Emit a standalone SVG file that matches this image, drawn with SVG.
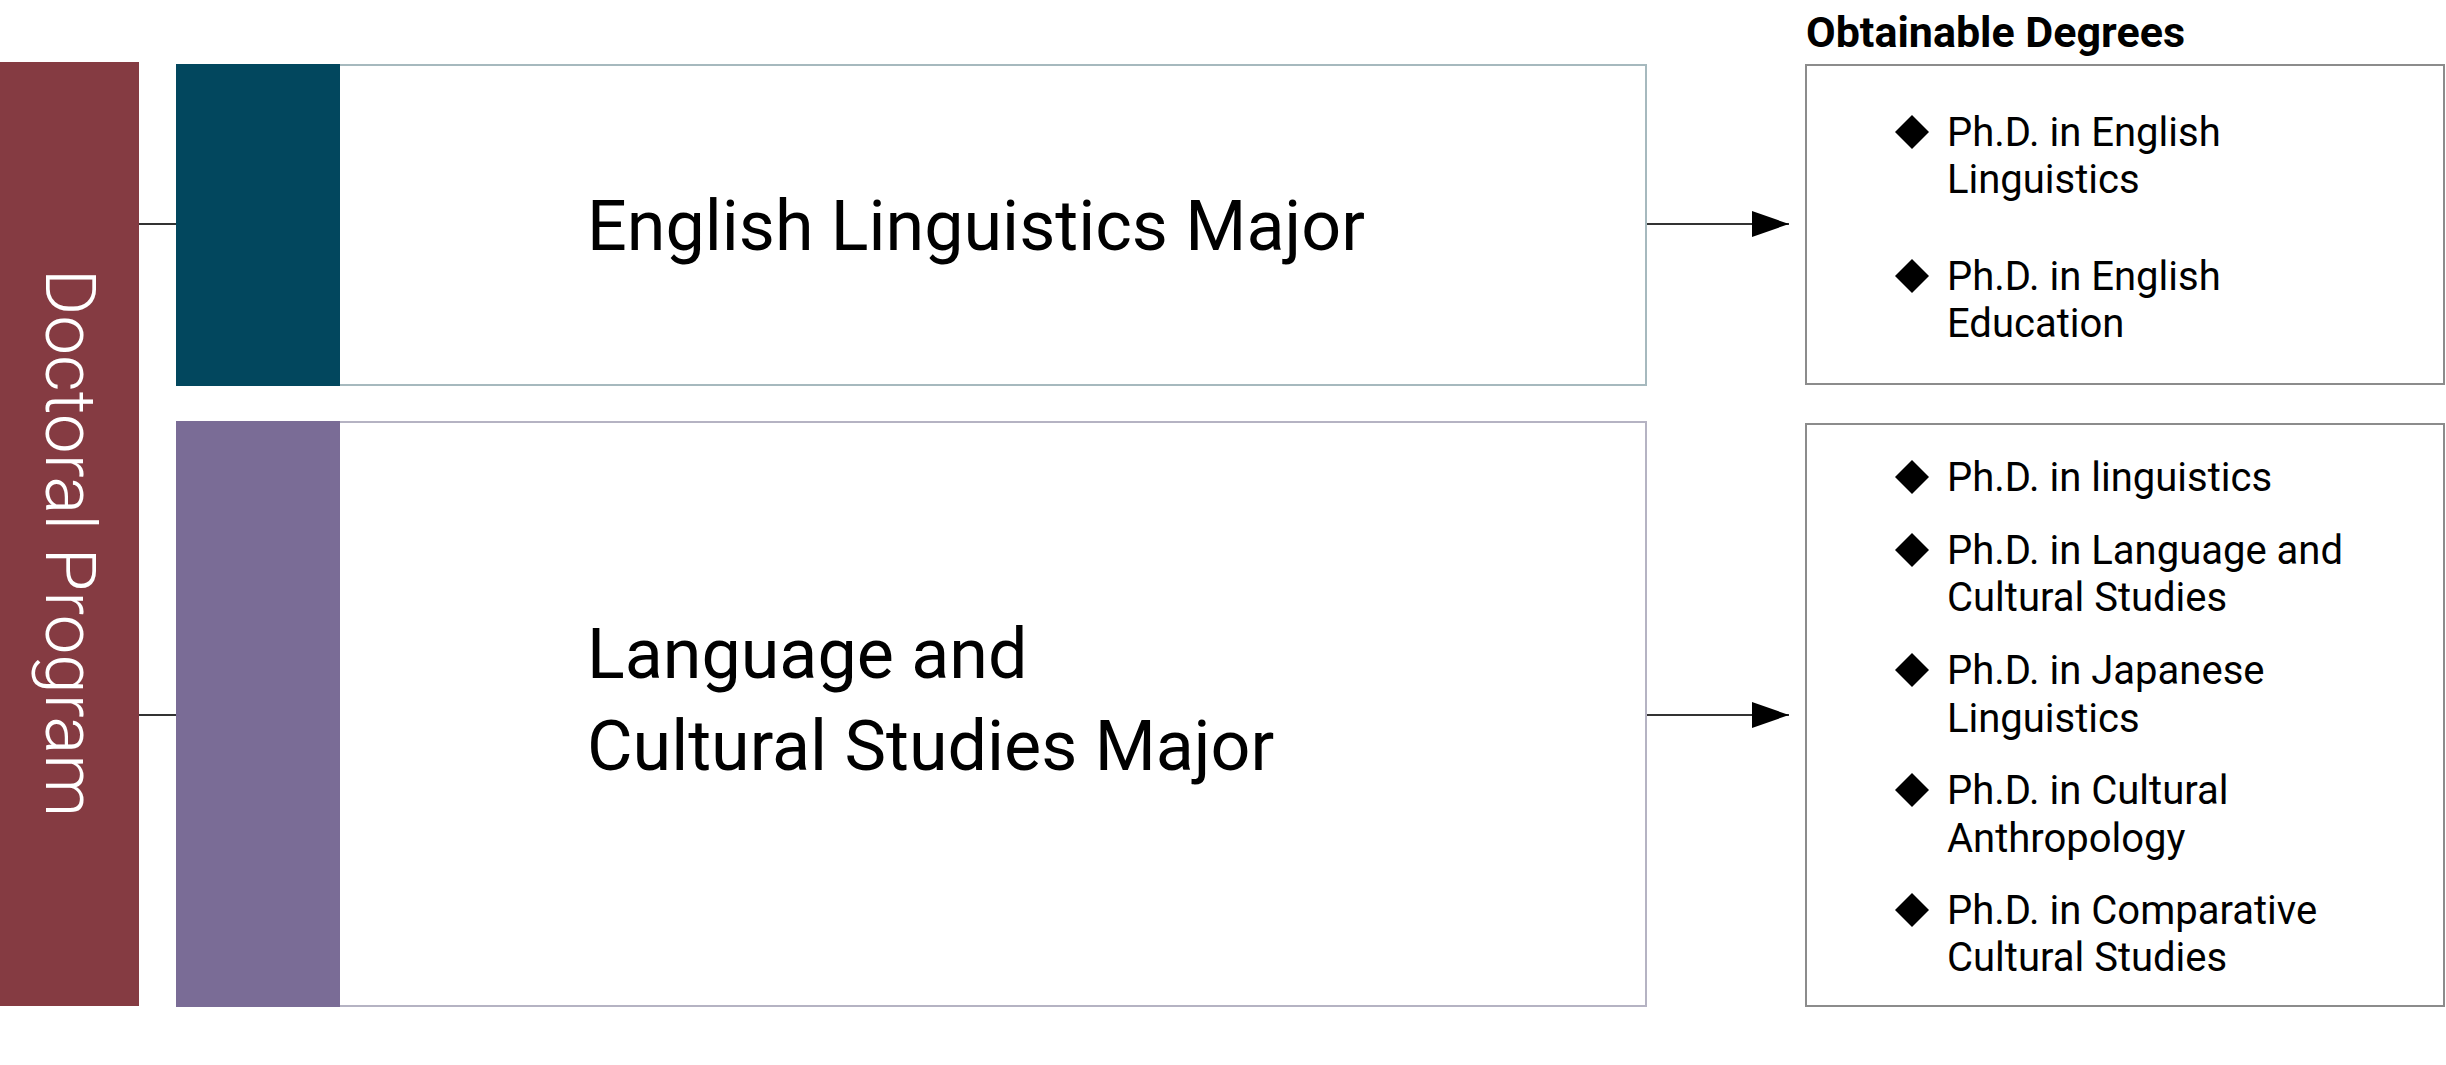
<svg xmlns="http://www.w3.org/2000/svg" width="2446" height="1065" viewBox="0 0 2446 1065">
  <style>
    .major { font-family: Roboto, "Liberation Sans", sans-serif; font-size: 70px; fill: #000; }
    .item { font-family: Roboto, "Liberation Sans", sans-serif; font-size: 40px; fill: #000; }
    .title { font-family: Roboto, "Liberation Sans", sans-serif; font-size: 43px; font-weight: bold; fill: #000; }
    .side { font-family: Roboto, "Liberation Sans", sans-serif; font-size: 71px; font-weight: 300; fill: #fff; }
    .conn { stroke: #333; stroke-width: 2; fill: none; }
    .dbox { fill: #fff; stroke: #8c8c8c; stroke-width: 2; }
    .bullet { fill: #000; }
  </style>
  <defs>
    <marker id="arrow" markerUnits="userSpaceOnUse" markerWidth="38" markerHeight="28" refX="37" refY="14" orient="auto">
      <path d="M0,1 L37,14 L0,27 Z" fill="#000"/>
    </marker>
    <polygon id="dia" points="0,-17 17,0 0,17 -17,0" class="bullet"/>
  </defs>
  <rect width="2446" height="1065" fill="#fff"/>

  <g id="connectors">
    <line class="conn" x1="139" y1="224" x2="176" y2="224"/>
    <line class="conn" x1="139" y1="715" x2="176" y2="715"/>
    <line class="conn" x1="1646" y1="224" x2="1789" y2="224" marker-end="url(#arrow)"/>
    <line class="conn" x1="1646" y1="715" x2="1789" y2="715" marker-end="url(#arrow)"/>
  </g>

  <g id="doctoral-program">
    <rect x="0" y="62" width="139" height="944" fill="#853b42"/>
    <text class="side" transform="translate(46,543) rotate(90)" text-anchor="middle">Doctoral Program</text>
  </g>

  <g id="english-linguistics-major">
    <rect x="177" y="65" width="1469" height="320" fill="#fff" stroke="#a6b9be" stroke-width="2"/>
    <rect x="176" y="64" width="164" height="322" fill="#02475e"/>
    <text class="major" x="587" y="250">English Linguistics Major</text>
  </g>

  <g id="language-cultural-major">
    <rect x="177" y="422" width="1469" height="584" fill="#fff" stroke="#b5b3c3" stroke-width="2"/>
    <rect x="176" y="421" width="164" height="586" fill="#7a6c96"/>
    <text class="major" x="587" y="678">Language and</text>
    <text class="major" x="587" y="770">Cultural Studies Major</text>
  </g>

  <g id="degrees-title">
    <text class="title" x="1806" y="47">Obtainable Degrees</text>
  </g>

  <g id="degrees-english">
    <rect class="dbox" x="1806" y="65" width="638" height="319"/>
    <use href="#dia" x="1912" y="132"/>
    <text class="item" x="1947" y="146">Ph.D. in English</text>
    <text class="item" x="1947" y="193">Linguistics</text>
    <use href="#dia" x="1912" y="276"/>
    <text class="item" x="1947" y="290">Ph.D. in English</text>
    <text class="item" x="1947" y="337">Education</text>
  </g>

  <g id="degrees-language">
    <rect class="dbox" x="1806" y="424" width="638" height="582"/>
    <use href="#dia" x="1912" y="477"/>
    <text class="item" x="1947" y="491">Ph.D. in linguistics</text>
    <use href="#dia" x="1912" y="550"/>
    <text class="item" x="1947" y="564">Ph.D. in Language and</text>
    <text class="item" x="1947" y="611">Cultural Studies</text>
    <use href="#dia" x="1912" y="670"/>
    <text class="item" x="1947" y="684">Ph.D. in Japanese</text>
    <text class="item" x="1947" y="732">Linguistics</text>
    <use href="#dia" x="1912" y="790"/>
    <text class="item" x="1947" y="804">Ph.D. in Cultural</text>
    <text class="item" x="1947" y="852">Anthropology</text>
    <use href="#dia" x="1912" y="910"/>
    <text class="item" x="1947" y="924">Ph.D. in Comparative</text>
    <text class="item" x="1947" y="971">Cultural Studies</text>
  </g>
</svg>
